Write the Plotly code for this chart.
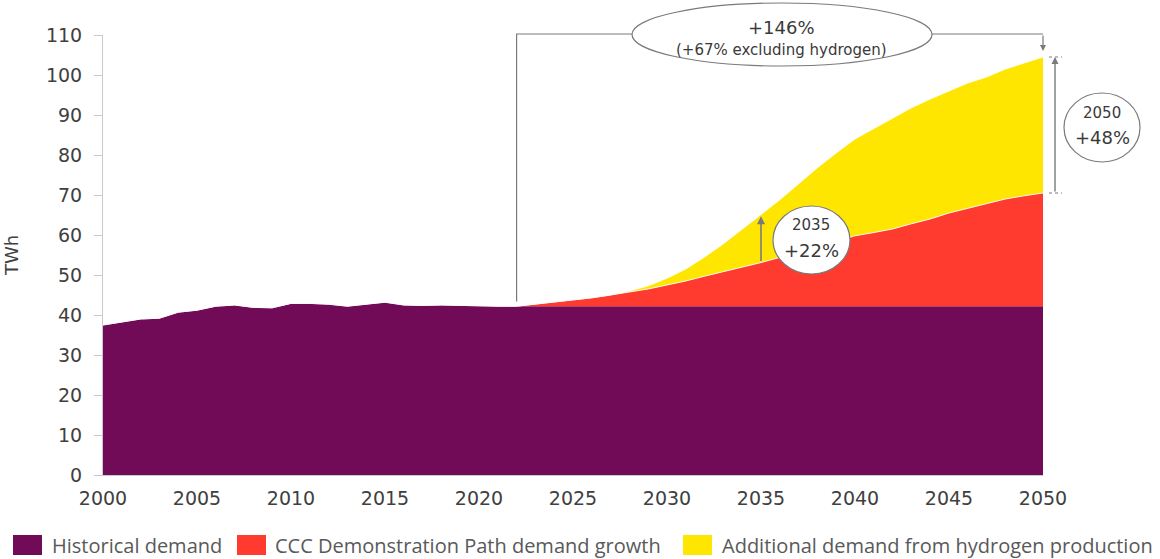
import plotly.graph_objects as go

# ---------------- data (TWh) ----------------
hist_years = list(range(2000, 2023)) + [2050]
hist_values = [37.5, 38.3, 39.0, 39.2, 40.7, 41.2, 42.2, 42.5, 41.9, 41.8,
               42.9, 42.9, 42.7, 42.2, 42.7, 43.2, 42.5, 42.4, 42.5, 42.4,
               42.2, 42.2, 42.2, 42.2]

proj_years = list(range(2022, 2051))
ccc_growth = [0.0, 0.5, 1.0, 1.5, 2.1, 2.8, 3.6, 4.3, 5.3, 6.3,
              7.5, 8.6, 9.8, 10.9, 12.2, 13.5, 14.7, 16.2, 17.6, 18.4,
              19.3, 20.6, 21.8, 23.3, 24.5, 25.6, 26.8, 27.6, 28.3]
hydrogen = [0.0, 0.0, 0.0, 0.0, 0.0, 0.0, 0.2, 0.8, 1.7, 3.0,
            4.8, 7.0, 9.5, 12.1, 14.4, 17.1, 19.9, 22.1, 24.2, 26.0,
            27.7, 29.0, 30.0, 30.5, 31.3, 31.7, 32.5, 33.2, 34.0]

series_names = ["Historical demand",
                "CCC Demonstration Path demand growth",
                "Additional demand from hydrogen production"]
colors = ["#720b57", "#ff3a2e", "#ffe600"]

x_ticks = list(range(2000, 2051, 5))
X_RANGE = [2000, 2050]
Y_RANGE = [0, 110]

# ---------------- layout geometry ----------------
W, H = 1160, 559
ML, MR, MT, MB = 103, 117, 35, 84
PW, PH = W - ML - MR, H - MT - MB


def pxx(px):
    return (px - ML) / PW


def pxy(py):
    return (H - MB - py) / PH


def dx(year):
    return (year - X_RANGE[0]) / (X_RANGE[1] - X_RANGE[0])


def dy(val):
    return (val - Y_RANGE[0]) / (Y_RANGE[1] - Y_RANGE[0])


base_2022 = hist_values[hist_years.index(2022)]
i35 = proj_years.index(2035)
i50 = proj_years.index(2050)
red_top_35 = base_2022 + ccc_growth[i35]
yel_top_35 = red_top_35 + hydrogen[i35]
red_top_50 = base_2022 + ccc_growth[i50]
yel_top_50 = red_top_50 + hydrogen[i50]

fig = go.Figure()
fig.add_trace(go.Scatter(x=hist_years, y=hist_values, name=series_names[0],
                         stackgroup="d", stackgaps="interpolate", mode="lines",
                         line=dict(width=0, color=colors[0]),
                         fillcolor=colors[0], showlegend=False))
fig.add_trace(go.Scatter(x=proj_years, y=ccc_growth, name=series_names[1],
                         stackgroup="d", mode="lines",
                         line=dict(width=1, color="rgba(255,255,255,0.85)"),
                         fillcolor=colors[1], showlegend=False))
fig.add_trace(go.Scatter(x=proj_years, y=hydrogen, name=series_names[2],
                         stackgroup="d", mode="lines",
                         line=dict(width=1, color="rgba(255,255,255,0.85)"),
                         fillcolor=colors[2], showlegend=False))

GRAY = "#7a7a7e"
AXG = "#c9c7cf"
TXT = "#404040"
ANN = "#3a3a3a"

shapes = []
# bracket from 2022 to 2050 above the chart
shapes.append(dict(type="path", xref="paper", yref="paper",
                   path=f"M {dx(2022)},{dy(43.4)} V {pxy(34)} H {dx(2050)}",
                   line=dict(color=GRAY, width=1.2)))
# ellipse +146%
shapes.append(dict(type="circle", xref="paper", yref="paper",
                   x0=pxx(632), x1=pxx(932), y0=pxy(66), y1=pxy(3),
                   fillcolor="white", line=dict(color=GRAY, width=1.2)))
# circle 2035
shapes.append(dict(type="circle", xref="paper", yref="paper",
                   x0=pxx(773), x1=pxx(850), y0=pxy(274), y1=pxy(206),
                   fillcolor="white", line=dict(color=GRAY, width=1.2)))
# circle 2050
shapes.append(dict(type="circle", xref="paper", yref="paper",
                   x0=pxx(1064), x1=pxx(1140), y0=pxy(162), y1=pxy(93),
                   fillcolor="white", line=dict(color=GRAY, width=1.2)))
# caps of the 2050 arrow
for v in (red_top_50, yel_top_50):
    shapes.append(dict(type="line", xref="paper", yref="paper",
                       x0=pxx(1049), x1=pxx(1062), y0=dy(v), y1=dy(v),
                       line=dict(color=GRAY, width=1, dash="dot")))

# manual legend squares
leg_sq = [(13, 42), (237, 266), (683, 712)]
leg_tx = [50, 273, 720]
for (a, b), c in zip(leg_sq, colors):
    shapes.append(dict(type="rect", xref="paper", yref="paper",
                       x0=pxx(a), x1=pxx(b), y0=pxy(555), y1=pxy(535),
                       fillcolor=c, line=dict(width=0)))

annotations = []
for t, name in zip(leg_tx, series_names):
    annotations.append(dict(xref="paper", yref="paper", x=pxx(t), y=pxy(545),
                            xanchor="left", yanchor="middle", showarrow=False,
                            text=name,
                            font=dict(family="Open Sans", size=20, color="#595959")))


def label(px, py, text, size):
    return dict(xref="paper", yref="paper", x=pxx(px), y=pxy(py),
                xanchor="center", yanchor="middle", showarrow=False,
                text=text, font=dict(family="DejaVu Sans", size=size, color=ANN))


annotations += [
    label(781, 27, "+146%", 18),
    label(781, 50, "(+67% excluding hydrogen)", 15),
    label(811, 225, "2035", 15),
    label(811, 250, "+22%", 18),
    label(1102, 113, "2050", 15),
    label(1102, 137, "+48%", 18),
    # 2035 arrow (red top -> yellow top)
    dict(xref="x", yref="y", x=2035, y=yel_top_35 - 0.5,
         axref="x", ayref="y", ax=2035, ay=red_top_35,
         showarrow=True, arrowhead=2, arrowsize=1, arrowwidth=1.6,
         arrowcolor=GRAY, text=""),
    # 2050 arrow (red top -> yellow top)
    dict(xref="paper", yref="y", x=pxx(1055), y=yel_top_50,
         axref="pixel", ayref="y", ax=0, ay=red_top_50,
         showarrow=True, arrowhead=2, arrowsize=1, arrowwidth=1.4,
         arrowcolor=GRAY, text=""),
    # downward arrow at the end of the bracket
    dict(xref="paper", yref="paper", x=dx(2050), y=pxy(51),
         ax=0, ay=-17, showarrow=True, arrowhead=2, arrowsize=1,
         arrowwidth=1.2, arrowcolor=GRAY, text=""),
]

fig.update_layout(
    width=W, height=H,
    margin=dict(l=ML, r=MR, t=MT, b=MB, autoexpand=False),
    paper_bgcolor="white", plot_bgcolor="white",
    font=dict(family="DejaVu Sans", color=TXT),
    showlegend=False,
    shapes=shapes, annotations=annotations,
    xaxis=dict(range=X_RANGE, tickvals=x_ticks, ticks="", showgrid=False,
               zeroline=False, showline=True, linecolor=AXG, linewidth=1,
               tickfont=dict(family="DejaVu Sans", size=19, color=TXT),
               ticklabelstandoff=6, automargin=False),
    yaxis=dict(range=Y_RANGE, dtick=10, ticks="outside", ticklen=8,
               tickcolor=AXG, showgrid=False, zeroline=False, showline=True,
               linecolor=AXG, linewidth=1,
               tickfont=dict(family="DejaVu Sans", size=19, color=TXT),
               ticklabelstandoff=8, automargin=False,
               title=dict(text="TWh", standoff=22,
                          font=dict(family="DejaVu Sans", size=18, color=TXT))),
)

fig.write_html("out.html",
               config={"displayModeBar": False},
               post_script="document.body.style.margin='0px';"
                           "document.body.style.overflow='hidden';")
